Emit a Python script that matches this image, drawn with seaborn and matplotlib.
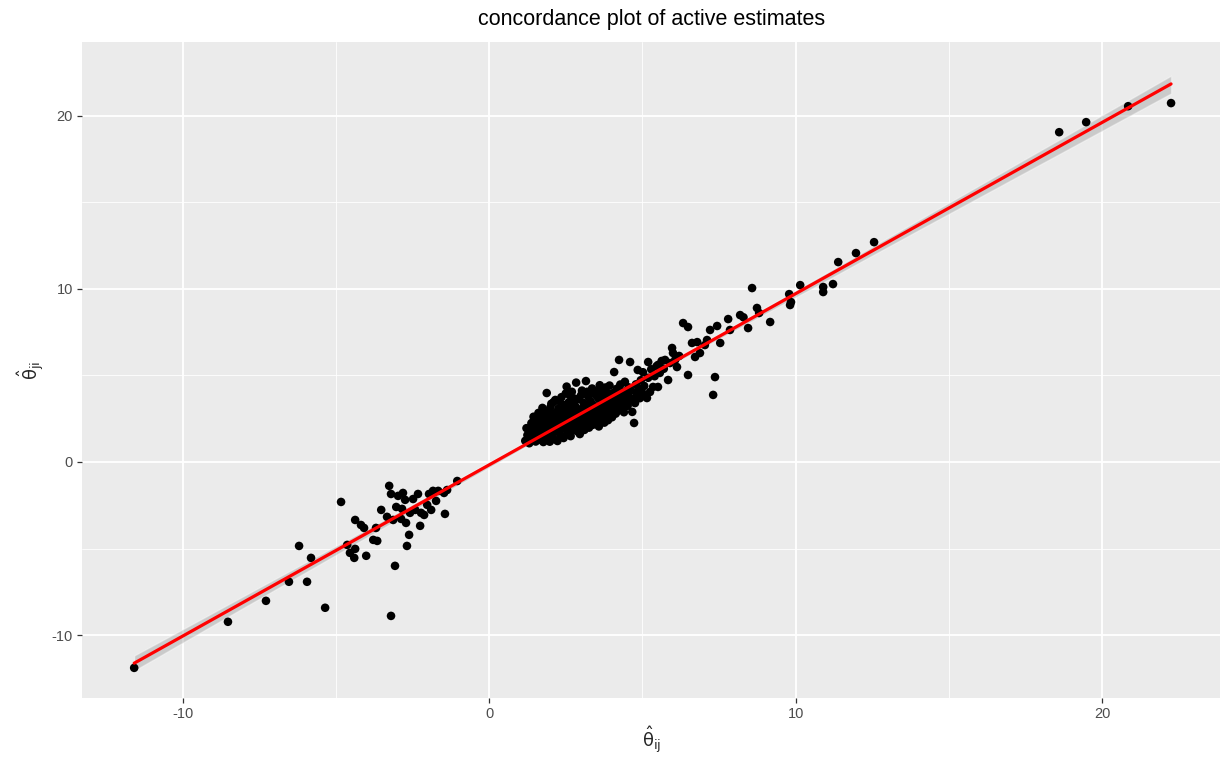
"""
concordance plot of active estimates (ggplot look, seaborn)
"""

import pandas as pd
import numpy as np
import matplotlib
matplotlib.use("Agg")
import matplotlib.pyplot as plt
import seaborn as sns

# ============================================
# data
# ============================================

# negative group
neg_pts = [
    (-11.58, -11.89), (-8.52, -9.23), (-7.28, -8.02), (-6.53, -6.92), (-6.20, -4.85),
    (-5.94, -6.92), (-5.81, -5.54), (-5.35, -8.42), (-4.83, -2.31), (-4.63, -4.79),
    (-4.54, -5.25), (-4.40, -5.54), (-4.37, -5.02), (-4.37, -3.35), (-4.18, -3.64),
    (-4.01, -5.42), (-4.08, -3.81), (-3.78, -4.50), (-3.69, -3.81), (-3.65, -4.56),
    (-3.52, -2.77), (-3.33, -3.17), (-3.26, -1.38), (-3.20, -8.89), (-3.20, -1.85),
    (-3.13, -3.35), (-3.07, -6.00), (-3.03, -2.60), (-2.97, -1.96), (-2.87, -3.29),
    (-2.84, -2.71), (-2.81, -1.79), (-2.74, -2.19), (-2.71, -3.52), (-2.68, -4.85),
    (-2.61, -4.21), (-2.58, -2.94), (-2.48, -2.14), (-2.41, -2.77), (-2.32, -1.85),
    (-2.25, -3.69), (-2.22, -2.94), (-2.12, -3.06), (-2.02, -2.48), (-1.96, -1.85),
    (-1.89, -2.77), (-1.83, -1.67), (-1.73, -2.25), (-1.66, -1.67), (-1.47, -1.79),
    (-1.44, -3.00), (-1.37, -1.62), (-1.04, -1.10),
]

# dense positive cluster
core_pts = [
    (1.18, 1.22), (1.25, 1.55), (1.22, 1.95), (1.31, 1.08), (1.34, 1.71), (1.38, 2.24),
    (1.41, 1.37), (1.45, 2.61), (1.47, 1.86), (1.52, 1.18), (1.55, 2.12), (1.58, 1.53),
    (1.61, 2.83), (1.63, 1.29), (1.66, 1.97), (1.69, 2.41), (1.72, 1.62), (1.74, 3.12),
    (1.77, 1.15), (1.80, 2.19), (1.83, 1.82), (1.86, 2.63), (1.88, 3.98), (1.90, 1.41),
    (1.93, 2.95), (1.95, 2.02), (1.98, 1.17), (2.01, 2.38), (2.03, 3.36), (2.06, 1.69),
    (2.08, 2.77), (2.11, 1.32), (2.13, 2.15), (2.16, 3.58), (2.18, 1.88), (2.21, 2.54),
    (2.23, 1.21), (2.26, 3.07), (2.28, 2.31), (2.31, 1.63), (2.33, 2.86), (2.36, 3.74),
    (2.38, 1.94), (2.41, 2.47), (2.43, 1.38), (2.46, 3.29), (2.48, 2.08), (2.51, 2.69),
    (2.53, 4.35), (2.56, 1.72), (2.58, 3.11), (2.61, 2.27), (2.63, 3.86), (2.66, 1.49),
    (2.68, 2.94), (2.71, 2.56), (2.73, 3.47), (2.76, 1.83), (2.78, 2.12), (2.81, 3.22),
    (2.84, 4.58), (2.86, 2.71), (2.88, 1.96), (2.91, 3.63), (2.93, 2.39), (2.96, 1.61),
    (2.98, 3.04), (3.01, 2.58), (3.03, 4.12), (3.06, 2.18), (3.08, 3.41), (3.11, 1.85),
    (3.13, 2.83), (3.16, 4.67), (3.18, 3.19), (3.21, 2.36), (3.23, 3.78), (3.26, 1.98),
    (3.28, 2.96), (3.31, 3.52), (3.33, 2.51), (3.36, 4.24), (3.38, 2.14), (3.41, 3.28),
    (3.43, 2.77), (3.46, 3.91), (3.48, 2.32), (3.51, 3.06), (3.53, 2.62), (3.56, 3.67),
    (3.58, 2.05), (3.61, 4.43), (3.63, 2.88), (3.66, 3.36), (3.68, 2.46), (3.71, 3.84),
    (3.73, 2.99), (3.76, 2.27), (3.78, 3.53), (3.81, 4.08), (3.83, 2.68), (3.86, 3.21),
    (3.88, 2.41), (3.91, 3.74), (3.93, 4.41), (3.96, 2.93), (3.98, 3.45), (4.01, 2.58),
    (4.03, 3.97), (4.06, 3.12), (4.08, 5.19), (4.11, 3.62), (4.13, 2.79), (4.16, 4.22),
    (4.18, 3.34), (4.21, 2.96), (4.24, 5.89), (4.26, 3.81), (4.28, 4.47), (4.31, 3.18),
    (4.34, 3.57), (4.37, 4.06), (4.40, 2.87), (4.43, 4.63), (4.46, 3.41), (4.49, 3.93),
    (4.52, 3.24), (4.55, 4.31), (4.58, 3.72), (4.60, 5.77), (4.63, 4.12), (4.67, 2.89),
    (4.70, 3.55), (4.73, 2.25), (4.76, 3.40), (4.79, 4.48), (4.82, 3.87), (4.85, 5.31),
    (4.88, 4.21), (4.92, 3.68), (4.95, 4.72), (4.98, 4.05), (5.02, 5.18), (5.06, 4.39),
    (5.10, 3.79), (5.15, 3.69), (5.19, 4.86), (5.19, 5.77), (5.25, 4.04), (5.29, 5.35),
    (5.35, 4.33), (5.40, 4.95), (5.46, 5.52), (5.51, 4.33), (5.51, 5.60), (5.57, 5.14),
    (5.63, 5.83), (5.70, 5.38), (5.74, 5.89), (5.84, 4.73),
    (1.50, 1.45), (1.60, 1.75), (1.70, 2.05), (1.85, 1.55), (1.95, 2.45), (2.05, 1.95),
    (2.15, 2.65), (2.25, 1.75), (2.35, 2.25), (2.45, 2.95), (2.55, 2.35), (2.65, 1.95),
    (2.75, 2.85), (2.85, 2.45), (2.95, 2.15), (3.05, 2.95), (3.15, 2.55), (3.25, 2.75),
    (3.35, 3.15), (3.45, 2.45), (3.55, 2.85), (3.65, 3.15), (3.75, 2.65), (3.85, 3.05),
    (3.95, 3.55), (2.20, 2.85), (2.40, 3.05), (2.60, 3.45), (2.80, 3.65), (3.00, 3.85),
    (3.20, 4.05), (3.40, 4.00), (2.90, 1.75), (3.10, 2.10), (3.30, 2.30), (3.50, 2.25),
    (3.70, 2.45), (4.00, 3.25), (4.20, 3.55), (4.45, 3.75), (1.35, 1.95), (1.45, 2.35),
    (1.55, 2.55), (1.75, 2.85), (2.00, 3.15), (2.10, 3.45), (2.30, 3.50), (2.50, 3.95),
    (2.70, 4.05), (3.60, 4.15), (3.80, 4.30), (2.05, 1.45), (2.35, 1.45), (2.60, 1.65),
    (2.85, 1.85),
]

# upper tail
upper_pts = [
    (5.90, 5.71), (5.97, 6.58), (6.00, 6.29), (6.07, 5.89), (6.13, 5.48), (6.20, 6.12),
    (6.33, 8.02), (6.49, 7.79), (6.49, 5.02), (6.62, 6.87), (6.72, 6.06), (6.79, 6.92),
    (6.88, 6.29), (7.04, 6.75), (7.11, 7.04), (7.21, 7.62), (7.31, 3.87), (7.37, 4.90),
    (7.44, 7.85), (7.54, 6.87), (7.80, 8.25), (7.86, 7.62), (8.19, 8.48), (8.30, 8.35),
    (8.45, 7.73), (8.58, 10.04), (8.74, 8.89), (8.81, 8.60), (9.17, 8.08), (9.79, 9.69),
    (9.82, 9.06), (9.85, 9.23), (10.15, 10.21), (10.90, 9.81), (10.90, 10.10),
    (11.22, 10.27), (11.39, 11.54), (11.97, 12.06), (12.56, 12.69), (18.60, 19.04),
    (19.48, 19.62), (20.85, 20.54), (22.25, 20.72),
]

x_ticks = [-10, 0, 10, 20]
y_ticks = [-10, 0, 10, 20]
minor_ticks = [-5, 5, 15]

df = pd.DataFrame(neg_pts + core_pts + upper_pts, columns=['theta_ij', 'theta_ji'])

# ============================================
# style
# ============================================
sns.set_theme(style="darkgrid", rc={
    'axes.facecolor': '#EBEBEB',
    'grid.color': 'white',
    'axes.edgecolor': '#EBEBEB',
})
plt.rcParams['font.family'] = ['Liberation Sans', 'DejaVu Sans']
plt.rcParams['mathtext.fontset'] = 'dejavusans'
plt.rcParams['axes.unicode_minus'] = False

fig = plt.figure(figsize=(12.25, 7.66), dpi=100)
ax = fig.add_axes([0.067, 0.089, 0.929, 0.856])

# grey band (confidence) then red line
sns.regplot(data=df, x='theta_ij', y='theta_ji', ax=ax, scatter=False, ci=95,
            color='#999999', line_kws={'alpha': 0})
for coll in ax.collections:
    coll.set_alpha(0.4)
sns.scatterplot(data=df, x='theta_ij', y='theta_ji', ax=ax, color='black',
                s=38, edgecolor='none', zorder=3)
sns.regplot(data=df, x='theta_ij', y='theta_ji', ax=ax, scatter=False, ci=None,
            color='red', line_kws={'lw': 2.3, 'zorder': 4})

ax.set_xlim(-13.28, 23.85)
ax.set_ylim(-13.62, 24.24)
ax.set_xticks(x_ticks)
ax.set_yticks(y_ticks)
ax.set_xticks(minor_ticks, minor=True)
ax.set_yticks(minor_ticks, minor=True)
ax.grid(which='major', color='white', lw=1.3)
ax.grid(which='minor', color='white', lw=0.6)
ax.set_axisbelow(True)
for s in ax.spines.values():
    s.set_visible(False)

ax.tick_params(which='major', length=3.5, width=0.9, color='#333333',
               labelsize=10.5, labelcolor='#4D4D4D', pad=3, bottom=True, left=True)
ax.tick_params(which='minor', length=0)

ax.set_title('concordance plot of active estimates', fontsize=15.5, pad=12, color='black')
ax.set_xlabel(r'$\hat{\mathrm{\theta}}_{\mathrm{ij}}$', fontsize=13, labelpad=2)
ax.set_ylabel(r'$\hat{\mathrm{\theta}}_{\mathrm{ji}}$', fontsize=13, labelpad=4)

plt.savefig('out.png', dpi=100)
plt.close()
